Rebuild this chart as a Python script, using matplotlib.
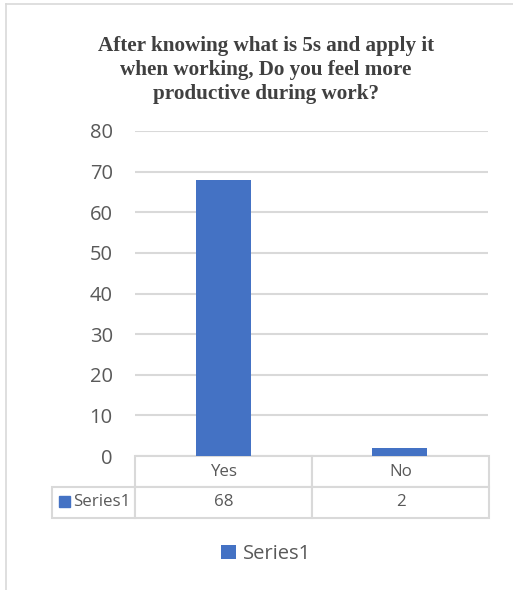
import matplotlib
matplotlib.use('Agg')
import matplotlib.pyplot as plt
from matplotlib.lines import Line2D
from matplotlib.patches import Rectangle

categories = ['Yes', 'No']
values = [68, 2]
series_name = 'Series1'
yticks = [0, 10, 20, 30, 40, 50, 60, 70, 80]

W, H = 513, 590
bar_color = '#4472C4'
grid_color = '#d9d9d9'
text_color = '#595959'

plt.rcParams['font.family'] = ['Open Sans', 'DejaVu Sans']

fig = plt.figure(figsize=(W / 100, H / 100), dpi=100)

# plot area in pixels: x 135..488, y 131 (80) .. 456 (0)
left, right, top, bottom = 135, 488, 131, 456
ax = fig.add_axes([left / W, 1 - bottom / H, (right - left) / W, (bottom - top) / H])

x = list(range(len(categories)))
bars = ax.bar(x, values, width=0.31, color=bar_color, zorder=3, label=series_name)
ax.set_xlim(-0.5, len(categories) - 0.5)
ax.set_ylim(0, 80)
ax.set_yticks(yticks)
ax.set_yticklabels([str(t) for t in yticks])
ax.set_xticks([])
ax.tick_params(axis='y', length=0, pad=16, labelsize=14.5, labelcolor=text_color)
ax.grid(axis='y', color=grid_color, lw=1.5, zorder=0)
for s in ax.spines.values():
    s.set_visible(False)

# data table under the plot
cell_text = [[''] + categories, [series_name] + [str(v) for v in values]]
tab_left, tab_right, tab_bot = 52, 489, 518
ah = bottom - top
aw = right - left
bbox = [(tab_left - left) / aw, -(tab_bot - bottom) / ah,
        (tab_right - tab_left) / aw, (tab_bot - bottom) / ah]
first_w = (left - tab_left) / (tab_right - tab_left)
col_w = [first_w] + [(1 - first_w) / len(categories)] * len(categories)
tbl = ax.table(cellText=cell_text, colWidths=col_w, bbox=bbox, cellLoc='center')
tbl.auto_set_font_size(False)
for (r, c), cell in tbl.get_celld().items():
    cell.set_edgecolor(grid_color)
    cell.set_linewidth(1.5)
    cell.get_text().set_fontsize(12.2)
    cell.get_text().set_color(text_color)
    if r == 0 and c == 0:
        cell.visible_edges = ''
    if r == 1 and c == 0:
        cell.get_text().set_ha('right')
        cell._loc = 'right'
        cell.PAD = 0.06

# series key square in the table
fig.add_artist(Rectangle((59 / W, 1 - 507 / H), 11 / W, 11 / H,
                         transform=fig.transFigure, color=bar_color))

# title
fig.text(266 / W, 1 - 36 / H,
         'After knowing what is 5s and apply it\nwhen working, Do you feel more\nproductive during work?',
         ha='center', va='top', fontsize=15.2, fontweight='bold',
         family='Liberation Serif', color='#404040', linespacing=1.25)

# legend
fig.legend(handles=[bars], labels=[series_name], loc='center',
           bbox_to_anchor=(266 / W, 1 - 554 / H), frameon=False,
           fontsize=14.5, labelcolor=text_color, handlelength=0.75,
           handleheight=0.75, handletextpad=0.3)

# chart border (top and left visible)
fig.add_artist(Line2D([6 / W, 1], [1 - 4 / H, 1 - 4 / H], transform=fig.transFigure,
                      color='#d9d9d9', lw=1.2))
fig.add_artist(Line2D([6 / W, 6 / W], [0, 1 - 4 / H], transform=fig.transFigure,
                      color='#d9d9d9', lw=1.2))

fig.savefig('out.png', dpi=100, facecolor='white')
